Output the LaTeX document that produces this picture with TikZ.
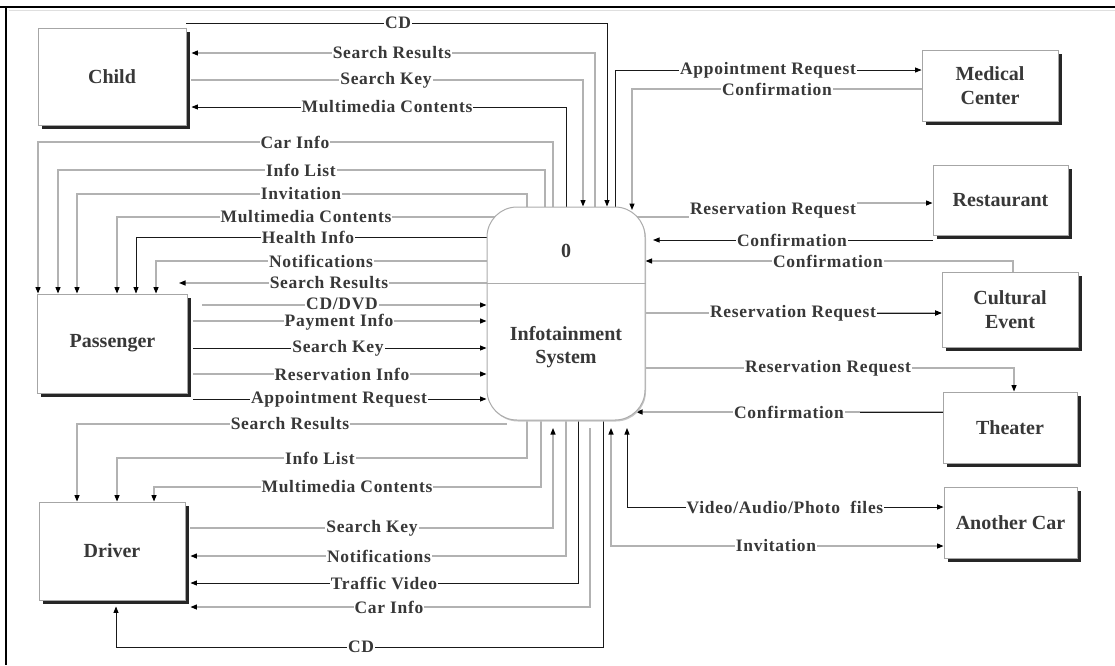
\documentclass[tikz,border=0pt]{standalone}
\usepackage{fontspec}
\setmainfont{Liberation Serif}
\newfontfamily\flowfont[LetterSpace=4]{Liberation Serif}
\usetikzlibrary{arrows.meta,shadows}
\begin{document}
\begin{tikzpicture}[x=1pt,y=-1pt,
  >={Triangle[length=6.5pt,width=5pt,color=black]},
  dk/.style={draw=black!90,line width=0.9pt},
  lt/.style={draw=gray!60,line width=1.2pt},
  lbl/.style={fill=white,inner xsep=1pt,inner ysep=0pt,text=black!78,
    font=\flowfont\fontsize{17.5}{18}\selectfont\bfseries},
  entity/.style={draw=gray!70,line width=0.9pt,fill=white,text=black!78,align=center,
    font=\fontsize{20}{24}\selectfont\bfseries,
    drop shadow={shadow xshift=3.5pt,shadow yshift=-3.5pt,fill=black!85,opacity=1}},
  proc/.style={draw=gray!65,line width=1pt,fill=white,rounded corners=30pt,
    minimum width=158pt,minimum height=213pt},
  ptext/.style={text=black!78,align=center,font=\fontsize{20}{23}\selectfont\bfseries}]

\useasboundingbox (0,0) rectangle (1115,665);

% frame
\draw[gray!25,line width=1pt] (9,10) -- (1115,10);
\draw[line width=2.5pt] (0,7) -- (1115,7);
\draw[line width=2.5pt] (6,6) -- (6,665);

% external entities
\node[entity,minimum width=148pt,minimum height=97pt] (child) at (112,76.5) {Child};
\node[entity,minimum width=150pt,minimum height=99pt] (passenger) at (112.5,343.5) {Passenger};
\node[entity,minimum width=146pt,minimum height=98pt] (driver) at (112,551) {Driver};
\node[entity,minimum width=136pt,minimum height=71pt] (medical) at (990,86) {Medical\\Center};
\node[entity,minimum width=135pt,minimum height=70pt] (restaurant) at (1000.5,200) {Restaurant};
\node[entity,minimum width=136pt,minimum height=75pt] (cultural) at (1010,309.5) {Cultural\\Event};
\node[entity,minimum width=134pt,minimum height=71pt] (theater) at (1010,427.5) {Theater};
\node[entity,minimum width=133pt,minimum height=71pt] (anothercar) at (1010.5,522.5) {Another Car};

% process box (placed now so its anchors exist; redrawn on top below)
\path (566,313.5) node[proc,draw=none,fill=none] (P) {};

% free ends
\coordinate (cdC) at (186,23);
\coordinate (srP) at (179,283);
\coordinate (cddvd) at (202,305);
\coordinate (srD) at (507,424);
\coordinate (skD) at (553,428);
\coordinate (ciD) at (590,428);
\coordinate (cmT) at (632,210);
\coordinate (crT) at (653,240);
\coordinate (ctT) at (636,412);
\coordinate (vaT) at (627,428);
\coordinate (ivT) at (611,428);

% Child flows
\draw[dk,->] (cdC) -| (607,0 |- P.north);
\draw[lt,->,shorten >=5pt] (595,0 |- P.center) |- (child.east |- 0,53);
\draw[lt,->,shorten <=5pt] (child.east |- 0,80) -| (583,0 |- P.north);
\draw[dk,->,shorten >=5pt] (566,0 |- P.center) |- (child.east |- 0,107);

% Passenger flows
\draw[lt,->] (553,0 |- P.center) |- (38,142) -- (38,0 |- passenger.north);
\draw[lt,->] (545,0 |- P.center) |- (58,170) -- (58,0 |- passenger.north);
\draw[lt,->] (527,0 |- P.center) |- (77,194) -- (77,0 |- passenger.north);
\draw[lt,->] (P.center |- 0,217) -| (117,0 |- passenger.north);
\draw[dk,->] (P.center |- 0,237) -| (136,0 |- passenger.north);
\draw[lt,->] (P.center |- 0,261) -| (156,0 |- passenger.north);
\draw[lt,->] (P.center |- 0,283) -- (srP);
\draw[lt,->] (cddvd) -- (P.west |- cddvd);
\draw[lt,->,shorten <=5pt] (passenger.east |- 0,321) -- (P.west |- 0,321);
\draw[dk,->,shorten <=5pt] (passenger.east |- 0,348) -- (P.west |- 0,348);
\draw[lt,->,shorten <=5pt] (passenger.east |- 0,374) -- (P.west |- 0,374);
\draw[dk,->,shorten <=5pt] (passenger.east |- 0,399) -- (P.west |- 0,399);

% Driver flows
\draw[lt,->] (srD) -| (77,0 |- driver.north);
\draw[lt,->] (527,0 |- P.center) |- (117,458) -- (117,0 |- driver.north);
\draw[lt,->] (541,0 |- P.center) |- (154,487) -- (154,0 |- driver.north);
\draw[lt,->,shorten <=5pt] (driver.east |- 0,528) -| (skD);
\draw[lt,->,shorten >=5pt] (566,0 |- P.center) |- (driver.east |- 0,556);
\draw[dk,->,shorten >=5pt] (578,0 |- P.center) |- (driver.east |- 0,583);
\draw[lt,->,shorten >=5pt] (ciD) |- (driver.east |- 0,607);
\draw[dk,->,shorten >=6pt] (603,0 |- P.center) |- (116,647) -- (116,0 |- driver.south);

% Flows to the service providers
\draw[dk,->] (615,0 |- P.center) |- (medical.west |- 0,70);
\draw[lt,->] (medical.west |- 0,89) -| (cmT);
\draw[lt,->] (P.center |- 0,217) -- (773,217) |- (restaurant.west |- 0,203);
\draw[dk,->] (restaurant.west |- 0,240) -- (crT);
\draw[lt,->] (1013,0 |- cultural.north) |- (P.east |- 0,261);
\draw[lt,->] (P.center |- 0,313) -- (cultural.west |- 0,313);
\draw[dk,->] (860,313) -- (cultural.west |- 0,313);
\draw[lt,->] (P.center |- 0,368) -| (1014,0 |- theater.north);
\draw[lt,->] (theater.west |- 0,412) -- (ctT);
\draw[dk] (theater.west |- 0,412) -- (860,412);
\draw[dk,<->] (vaT) |- (anothercar.west |- 0,507);
\draw[lt,<->] (ivT) |- (anothercar.west |- 0,546);

% flow labels
\node[lbl] (t1) at (398,23) {CD};
\node[lbl] (t2) at (392,53) {Search Results};
\node[lbl] (t3) at (386,80) {Search Key};
\node[lbl] (t4) at (387,107) {Multimedia Contents};
\node[lbl] (t5) at (295,142) {Car Info};
\node[lbl] (t6) at (301,170) {Info List};
\node[lbl] (t7) at (301,194) {Invitation};
\node[lbl] (t8) at (306,217) {Multimedia Contents};
\node[lbl] (t9) at (308,237) {Health Info};
\node[lbl] (t10) at (321,261) {Notifications};
\node[lbl] (t11) at (329,283) {Search Results};
\node[lbl] (t12) at (342,303.5) {CD/DVD};
\node[lbl] (t13) at (339,322.5) {Payment Info};
\node[lbl] (t14) at (338,348) {Search Key};
\node[lbl] (t15) at (342,374) {Reservation Info};
\node[lbl] (t16) at (339,399) {Appointment Request};
\node[lbl] (t17) at (290,424) {Search Results};
\node[lbl] (t18) at (320,458) {Info List};
\node[lbl] (t19) at (347,487) {Multimedia Contents};
\node[lbl] (t20) at (372,528) {Search Key};
\node[lbl] (t21) at (379,556) {Notifications};
\node[lbl] (t22) at (384,583) {Traffic Video};
\node[lbl] (t23) at (389,607) {Car Info};
\node[lbl] (t24) at (361,647) {CD};
\node[lbl] (t25) at (768,70) {Appointment Request};
\node[lbl] (t26) at (777,89) {Confirmation};
\node[lbl] (t27) at (773,210) {Reservation Request};
\node[lbl] (t28) at (792,240) {Confirmation};
\node[lbl] (t29) at (828,261) {Confirmation};
\node[lbl] (t30) at (793,313) {Reservation Request};
\node[lbl] (t31) at (828,368) {Reservation Request};
\node[lbl] (t32) at (789,412) {Confirmation};
\node[lbl] (t33) at (785,507) {Video/Audio/Photo\ \ files};
\node[lbl] (t34) at (776,546) {Invitation};

% the process itself, drawn over the flow ends that start inside it
\node[proc,drop shadow={shadow xshift=1pt,shadow yshift=-1.5pt,fill=gray!45,opacity=1}] (proc) at (566,313.5) {};
\draw[gray!65,line width=1pt] (proc.west |- 0,283) -- (proc.east |- 0,283);
\node[ptext] (pnum) at (566,251) {0};
\node[ptext] (pname) at (566,347) {Infotainment\\System};
\end{tikzpicture}
\end{document}
